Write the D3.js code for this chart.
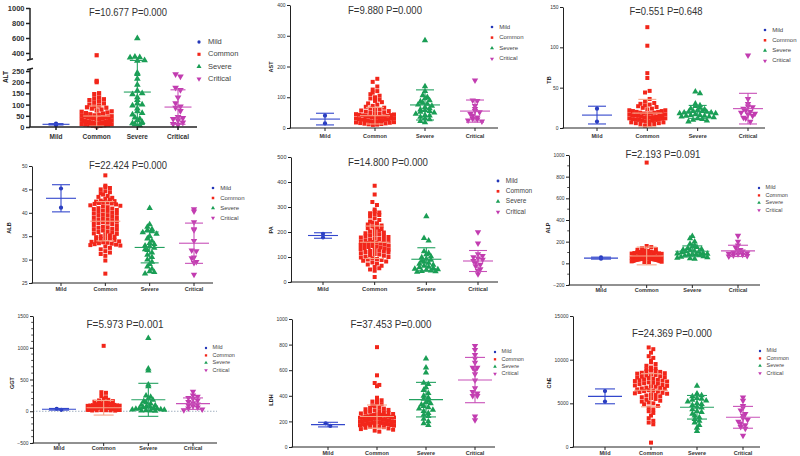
<!DOCTYPE html>
<html><head><meta charset="utf-8">
<script src="https://cdn.jsdelivr.net/npm/d3@7"></script>
<style>body{margin:0;background:#fff}svg{display:block;font-family:"Liberation Sans",Arial,sans-serif}</style>
</head><body><svg id="c" width="800" height="456"></svg>
<script>
const groups = ["Mild","Common","Severe","Critical"];
const colors = ["#2336b8","#f2261a","#1a9e55","#c23cb0"];
const barColors = ["#3347cc","#f7a488","#23a160","#c850b8"];

// ALT
const altMild = [9, 15];
const altCommon = [3,5,6,8,9,10,11,12,13,14,15,16,17,18,19,20,21,22,23,24,25,26,27,28,30,32,34,36,38,40,41,42,44,45,47,48,50,52,55,57,60,62,65,68,70,74,78,82,86,88,92,96,100,105,110,115,120,124,128,132,147,151,200,206,370];
const altSevere = [595,348,342,338,302,298,242,236,215,188,162,150,146,132,120,105,100,96,82,70,62,55,42,36,30,22,16,12,8];
const altCritical = [236,226,176,166,132,106,92,86,72,45,40,36,30,20,14,10];
const altMean = [12, 49, 156, 89];
const altSD = [3, 45, 145, 77];
const altTicks = [0,50,100,150,200,250,400,600,800,1000];

// AST
const astMild = [40, 15];
const astCommon = [10,11,12,13,14,15,16,17,18,19,20,21,22,23,24,25,26,27,27,28,29,30,31,32,33,34,35,36,37,38,39,40,41,42,43,44,45,46,47,49,51,53,55,57,59,61,63,66,69,72,76,80,84,88,92,96,100,105,110,115,120,125,135,150,160];
const astSevere = [285,135,120,106,100,96,90,86,82,78,76,72,68,64,60,58,55,52,50,46,42,40,36,32,28,22,18];
const astCritical = [155,90,88,72,62,56,52,46,40,35,30,28,25,22];
const astMean = [29, 40, 75, 55];
const astSD = [19, 27, 49, 36];
const astTicks = [0,100,200,300,400];

// TB
const tbMild = [24, 8];
const tbCommon = [3,4,5,5,6,6,7,7,8,8,9,9,10,10,10.5,11,11,11.5,12,12,12.5,13,13,13.5,14,14,15,15,15.5,16,16,17,17,17.5,18,18,19,19,20,20,21,21,22,22,23,24,25,26,27,28,29,30,31,33,36,44,46,62,68,102,125];
const tbSevere = [45,43,30,28,27,25,24,23,22,21,21,20,20,19,19,18,18,17,16,16,15,15,14,14,13,12,11,10,9,8];
const tbCritical = [90,36,30,27,26,24,22,20,19,18,17,15,13,12,8];
const tbMean = [16, 18.5, 20, 24];
const tbSD = [11, 17, 8, 19];
const tbTicks = [0,50,100,150];

// ALB
const albMild = [45.2, 41.1];
const albCommon = [48,45.8,45.5,45.3,45,44.6,44.4,44.2,43.9,43.6,43.4,43.2,43,42.8,42.6,42.5,42.4,42.3,42.2,42.1,42,41.9,41.8,41.6,41.5,41.4,41.2,41,40.9,40.8,40.6,40.5,40.4,40.2,40,39.9,39.8,39.6,39.5,39.4,39.2,39,38.9,38.8,38.6,38.5,38.4,38.2,38.1,38,37.9,37.8,37.6,37.4,37.2,37,36.9,36.8,36.6,36.5,36.4,36.2,36,35.9,35.8,35.6,35.5,35.4,35.2,35,34.9,34.8,34.6,34.5,34.4,34.2,34,33.9,33.8,33.7,33.6,33.5,33.4,33.3,33.2,33.1,33,32.8,32.5,32.2,31.8,31.5,31.2,30.8,29.8,27];
const albSevere = [41,37.5,37,36.5,36.3,36,35.8,35.5,35,34.5,34,33.5,33.3,33,32.8,32.5,32.2,32,31.5,31,30.5,30,29.5,29,28.5,28,27.5,27.3,27];
const albCritical = [40.8,40.3,38,36.5,36.3,34,32,31.8,30.5,30.3,29.5,29.3,26.8];
const albMean = [43.1, 38.2, 32.6, 33.5];
const albSD = [2.9, 4.2, 3.3, 4.3];
const albTicks = [25,30,35,40,45,50];

// PA
const paMild = [193, 178];
const paCommon = [385,350,320,308,290,282,278,275,272,268,262,255,248,242,238,235,230,226,222,218,215,212,208,205,202,198,195,192,190,187,184,182,180,178,175,172,170,168,166,164,162,160,158,156,154,152,150,148,146,144,142,140,138,136,134,132,130,128,126,124,122,120,118,115,112,110,108,105,102,100,98,95,92,90,88,85,82,78,74,70,65,60,55,50,45,20];
const paSevere = [262,175,165,122,115,110,102,98,92,88,84,80,76,72,68,64,60,58,55,52,50,48,45,43,42,40];
const paCritical = [200,155,112,105,100,95,90,85,78,70,64,52,45,32];
const paMean = [186, 159, 91, 84];
const paSD = [11, 65, 46, 42];
const paTicks = [0,100,200,300,400,500];

// ALP
const alpMild = [55, 42];
const alpCommon = [930,160,150,140,130,125,120,115,110,108,105,102,100,98,95,92,90,88,86,84,82,80,78,76,75,74,72,70,69,68,66,65,64,62,61,60,59,58,57,56,55,54,53,52,51,50,49,48,47,46,45,44,43,42,41,40,39,38,37,36,35,34,33,32,30,28,26,24,22,20,18,15,12,10];
const alpSevere = [250,230,200,180,165,155,150,140,130,125,120,115,110,105,100,95,90,88,85,82,80,75,70,65,60,55,50,45,40];
const alpCritical = [255,200,165,145,125,115,110,100,95,90,85,80,75,70,65];
const alpMean = [48, 68, 111, 115];
const alpSD = [9, 82, 50, 52];
const alpTicks = [-200,0,200,400,600,800,1000];

// GGT
const ggtMild = [40, 22];
const ggtCommon = [1030,300,290,240,220,200,180,170,160,150,140,130,125,120,115,110,105,100,95,92,90,88,85,82,80,78,75,72,70,68,65,62,60,58,56,55,54,52,50,48,46,45,44,42,40,38,36,35,34,32,30,28,26,25,24,22,20,18,16,15,14,12,10];
const ggtSevere = [1150,670,640,420,390,245,225,200,180,160,140,120,100,90,80,70,60,50,45,40,35,30,25,20,15,10,8,5];
const ggtCritical = [310,250,230,210,195,170,150,130,110,95,80,60,45,30,20];
const ggtMean = [31, 55, 180, 120];
const ggtSD = [13, 115, 260, 90];
const ggtTicks = [-500,0,500,1000,1500];

// LDH
const ldhMild = [185, 165];
const ldhCommon = [780,560,500,485,475,385,375,365,355,345,335,325,318,310,305,300,295,290,285,280,276,272,268,265,262,258,255,252,250,248,245,243,240,238,236,234,232,230,228,226,224,222,220,218,216,214,212,210,208,206,204,202,200,198,196,194,192,190,188,186,184,182,180,178,176,174,172,170,167,164,161,158,155,150,145,140,135,128,120];
const ldhSevere = [690,620,580,500,490,465,445,420,400,385,375,360,350,340,330,320,310,300,290,280,265,250,240,220,200,185,170];
const ldhCritical = [790,760,720,690,660,620,620,600,570,520,460,430,420,400,400,240,210];
const ldhMean = [175, 238, 370, 523];
const ldhSD = [18, 90, 135, 177];
const ldhTicks = [0,200,400,600,800,1000];

// ChE
const cheMild = [6400, 5200];
const cheCommon = [11400,11200,10800,10400,10200,9900,9700,9500,9300,9100,9000,8900,8800,8700,8650,8600,8500,8450,8400,8300,8250,8200,8100,8050,8000,7950,7900,7800,7750,7700,7650,7600,7550,7500,7400,7350,7300,7250,7200,7100,7050,7000,6950,6900,6800,6750,6700,6650,6600,6500,6450,6400,6350,6300,6200,6150,6100,6000,5950,5900,5800,5700,5600,5500,5400,5300,5200,5100,5000,4900,4700,4500,4300,4100,3900,3600,3300,3000,2800,2600,500];
const cheSevere = [7000,6100,6000,5900,5800,5600,5500,5400,5300,5200,5000,4900,4800,4600,4500,4300,4100,4000,3800,3600,3400,3200,3000,2800,2500,2200,1800];
const cheCritical = [5700,5300,4700,4500,4200,3800,3600,3300,3100,2900,2700,2500,2300,2100,1300];
const cheMean = [5800, 6500, 4550, 3400];
const cheSD = [850, 1900, 1350, 1250];
const cheTicks = [0,5000,10000,15000];

const panels = [
 {label:"ALT", title:"F=10.677 P=0.000", tw:78, data:[altMild,altCommon,altSevere,altCritical], mean:altMean, sd:altSD, ticks:altTicks,
  yDomain:[0,250,300,1000], yRange:[127,71,60.5,8], broken:true, ax:30, xEnd:197, xr:[56,178], xlabY:139,
  tx:128, ty:15.5, lx:6, ly:77, legX:199, legY:42, legDy:12.3, legFont:7.5, tickFont:7.5, tickBold:true, xFont:6.5, labFont:6.5, ms:4.2, maxHalf:15, mw:13.5, ww:7.5, sw:1.5},
 {label:"AST", title:"F=9.880 P=0.000", tw:74, data:[astMild,astCommon,astSevere,astCritical], mean:astMean, sd:astSD, ticks:astTicks,
  yDomain:[0,400], yRange:[128,5], ax:290, xEnd:498, xr:[325,475], xlabY:138,
  tx:385, ty:13.5, lx:272, ly:67, legX:492, legY:27, legDy:10.6, legFont:6, tickFont:5, xFont:5.5, labFont:5.5, ms:4, maxHalf:19, mw:15, ww:9, sw:1},
 {label:"TB", title:"F=0.551 P=0.648", tw:73, data:[tbMild,tbCommon,tbSevere,tbCritical], mean:tbMean, sd:tbSD, ticks:tbTicks,
  yDomain:[0,150], yRange:[128,7], ax:563, xEnd:765, xr:[597,748], xlabY:138,
  tx:666, ty:15, lx:550, ly:80, legX:765, legY:30, legDy:10.3, legFont:6, tickFont:5, xFont:5.5, labFont:5.5, ms:4, maxHalf:18, mw:15, ww:9, sw:1},
 {label:"ALB", title:"F=22.424 P=0.000", tw:78, data:[albMild,albCommon,albSevere,albCritical], mean:albMean, sd:albSD, ticks:albTicks,
  yDomain:[25,50], yRange:[283,166], ax:32, xEnd:213, xr:[61,194], xlabY:291,
  tx:128, ty:169, lx:10, ly:228, legX:213, legY:188, legDy:10, legFont:6, tickFont:5, xFont:5.5, labFont:5.5, ms:4, maxHalf:15, mw:15, ww:9, sw:1},
 {label:"PA", title:"F=14.800 P=0.000", tw:80, data:[paMild,paCommon,paSevere,paCritical], mean:paMean, sd:paSD, ticks:paTicks,
  yDomain:[0,500], yRange:[282,157], ax:291, xEnd:498, xr:[323,478], xlabY:291,
  tx:388, ty:166, lx:272, ly:230, legX:498, legY:181, legDy:10.3, legFont:6.5, tickFont:5.5, xFont:5.8, labFont:5.5, ms:4, maxHalf:14, mw:15, ww:9, sw:1},
 {label:"ALP", title:"F=2.193 P=0.091", tw:75, data:[alpMild,alpCommon,alpSevere,alpCritical], mean:alpMean, sd:alpSD, ticks:alpTicks, minor:100,
  yDomain:[-200,1000], yRange:[285,155], ax:569, xEnd:760, xr:[601,738], xlabY:292,
  tx:663, ty:158, lx:549, ly:228, legX:759, legY:188, legDy:7.4, legFont:5.5, tickFont:5, xFont:5.5, labFont:5.5, ms:4, maxHalf:15, mw:17, ww:10, sw:1},
 {label:"GGT", title:"F=5.973 P=0.001", tw:77, data:[ggtMild,ggtCommon,ggtSevere,ggtCritical], mean:ggtMean, sd:ggtSD, ticks:ggtTicks, minor:100, zeroLine:true,
  yDomain:[-500,1500], yRange:[443,316], ax:33, xEnd:217, xr:[59,193], xlabY:450,
  tx:125, ty:328, lx:13, ly:383, legX:206, legY:348, legDy:7.4, legFont:5.5, tickFont:5, xFont:5.5, labFont:5.5, ms:4, maxHalf:16, mw:17, ww:10, sw:1},
 {label:"LDH", title:"F=37.453 P=0.000", tw:81, data:[ldhMild,ldhCommon,ldhSevere,ldhCritical], mean:ldhMean, sd:ldhSD, ticks:ldhTicks,
  yDomain:[0,1000], yRange:[447,319], ax:292, xEnd:495, xr:[328,475], xlabY:455,
  tx:391, ty:328, lx:272, ly:400, legX:495, legY:352, legDy:7.3, legFont:5.5, tickFont:5, xFont:5.5, labFont:5.5, ms:4, maxHalf:17, mw:17, ww:10, sw:1},
 {label:"ChE", title:"F=24.369 P=0.000", tw:80, data:[cheMild,cheCommon,cheSevere,cheCritical], mean:cheMean, sd:cheSD, ticks:cheTicks,
  yDomain:[0,15000], yRange:[447,316], ax:573, xEnd:760, xr:[605,743], xlabY:455,
  tx:672, ty:337, lx:550, ly:383, legX:760, legY:351, legDy:7.4, legFont:5.5, tickFont:5, xFont:5.5, labFont:5.5, ms:4, maxHalf:18, mw:17, ww:10, sw:1}
];

const svg = d3.select("#c");
const shapes = [d3.symbolCircle, d3.symbolSquare, d3.symbolTriangle, d3.symbolTriangle];
const rots = [0, 0, 0, 180];
const areaK = [0.85, 1.0, 1.1, 1.1];

// Row-based scatter layout (GraphPad-like): points sharing a pixel row spread horizontally.
function layoutRows(vals, y, cx, ms, maxHalf) {
  const pts = vals.map(v => ({v, y: y(v)}));
  const bins = d3.group(pts, d => Math.round(d.y / ms));
  const out = [];
  for (const [, arr] of bins) {
    const n = arr.length;
    let sp = ms * 1.15;
    if (n > 1 && (n - 1) * sp / 2 > maxHalf) sp = 2 * maxHalf / (n - 1);
    arr.forEach((d, i) => {
      let k;
      if (n % 2) k = i === 0 ? 0 : (i % 2 ? 1 : -1) * Math.ceil(i / 2);
      else k = (i % 2 ? 1 : -1) * (Math.floor(i / 2) + 0.5);
      d.x = cx + k * sp;
      out.push(d);
    });
  }
  return out;
}

const fmt = d3.format("d");

panels.forEach(p => {
  const g = svg.append("g");
  const y = d3.scaleLinear().domain(p.yDomain).range(p.yRange);
  const x = d3.scalePoint().domain(groups).range(p.xr);
  const base = p.yRange[0];
  const yMin = p.yDomain[0], yMax = p.yDomain[p.yDomain.length - 1];

  if (p.zeroLine) {
    g.append("line").attr("x1", p.ax).attr("x2", p.xEnd).attr("y1", y(0)).attr("y2", y(0))
      .attr("stroke", "#8a9cb0").attr("stroke-width", 0.8).attr("stroke-dasharray", "1.5,1.5");
  }

  // points
  p.data.forEach((vals, gi) => {
    const pts = layoutRows(vals, y, x(groups[gi]), p.ms, p.maxHalf);
    const sym = d3.symbol(shapes[gi], p.ms * p.ms * areaK[gi]);
    g.append("g").selectAll("path").data(pts).join("path")
      .attr("d", sym)
      .attr("transform", d => `translate(${d.x},${d.y}) rotate(${rots[gi]})`)
      .attr("fill", colors[gi]);
  });

  // error bars (mean ± SD)
  groups.forEach((grp, gi) => {
    const cx = x(grp);
    const m = p.mean[gi], s = p.sd[gi];
    const hi = Math.min(m + s, yMax), lo = Math.max(m - s, yMin);
    const eg = g.append("g").attr("stroke", barColors[gi]).attr("stroke-width", 1.1);
    eg.append("line").attr("x1", cx).attr("x2", cx).attr("y1", y(lo)).attr("y2", y(hi));
    eg.append("line").attr("x1", cx - p.mw).attr("x2", cx + p.mw).attr("y1", y(m)).attr("y2", y(m));
    eg.append("line").attr("x1", cx - p.ww).attr("x2", cx + p.ww).attr("y1", y(hi)).attr("y2", y(hi));
    if (m - s > yMin) eg.append("line").attr("x1", cx - p.ww).attr("x2", cx + p.ww).attr("y1", y(lo)).attr("y2", y(lo));
  });

  // y axis
  const axis = d3.axisLeft(y).tickValues(p.ticks).tickFormat(fmt).tickSize(p.broken ? 4 : 3).tickSizeOuter(0).tickPadding(1.5);
  const ga = g.append("g").attr("transform", `translate(${p.ax},0)`).call(axis);
  ga.selectAll("text").attr("font-size", p.tickFont).attr("fill", "#333")
    .attr("font-weight", p.tickBold ? "bold" : "normal").attr("font-family", "Liberation Sans, Arial, sans-serif");
  ga.selectAll("line").attr("stroke", "#222").attr("stroke-width", p.sw);
  ga.select(".domain").attr("stroke", "#222").attr("stroke-width", p.sw);
  if (p.broken) {
    ga.select(".domain").remove();
    const segs = [[y(0), y(250) - 2], [y(300) - 1, y(1000)]];
    segs.forEach(s => ga.append("line").attr("x1", 0).attr("x2", 0).attr("y1", s[0]).attr("y2", s[1])
      .attr("stroke", "#222").attr("stroke-width", p.sw));
    [y(250) - 2, y(300) - 1].forEach(yy => ga.append("line").attr("x1", -3).attr("x2", 3)
      .attr("y1", yy + 0.7).attr("y2", yy - 0.7).attr("stroke", "#222").attr("stroke-width", p.sw));
  }
  if (p.minor) {
    const minors = d3.range(yMin, yMax + 1, p.minor).filter(v => !p.ticks.includes(v));
    ga.selectAll(".minor").data(minors).join("line").attr("class", "minor")
      .attr("x1", -1.8).attr("x2", 0).attr("y1", d => y(d)).attr("y2", d => y(d))
      .attr("stroke", "#222").attr("stroke-width", 0.8);
  }

  // x axis
  const gx = g.append("g");
  gx.append("line").attr("x1", p.ax - p.sw / 2).attr("x2", p.xEnd).attr("y1", base).attr("y2", base)
    .attr("stroke", "#222").attr("stroke-width", p.sw);
  gx.selectAll(".xt").data(groups).join("line").attr("class", "xt")
    .attr("x1", d => x(d)).attr("x2", d => x(d)).attr("y1", base).attr("y2", base + 3)
    .attr("stroke", "#222").attr("stroke-width", p.sw);
  gx.selectAll(".xl").data(groups).join("text").attr("class", "xl")
    .attr("x", d => x(d)).attr("y", p.xlabY).attr("text-anchor", "middle")
    .attr("font-size", p.xFont).attr("font-weight", "bold").attr("fill", "#333").text(d => d);

  // y label
  g.append("text").attr("transform", `translate(${p.lx},${p.ly}) rotate(-90)`)
    .attr("text-anchor", "middle").attr("dominant-baseline", "middle")
    .attr("font-size", p.labFont).attr("font-weight", "bold").attr("fill", "#222").text(p.label);

  // title
  g.append("text").attr("x", p.tx).attr("y", p.ty).attr("text-anchor", "middle")
    .attr("font-size", 11).attr("fill", "#333")
    .attr("textLength", p.tw).attr("lengthAdjust", "spacingAndGlyphs").text(p.title);

  // legend
  const lg = g.append("g");
  groups.forEach((grp, gi) => {
    const ly = p.legY + gi * p.legDy;
    const sz = (p.legFont * 0.42) ** 2 * areaK[gi];
    lg.append("path").attr("d", d3.symbol(shapes[gi], sz))
      .attr("transform", `translate(${p.legX},${ly}) rotate(${rots[gi]})`).attr("fill", colors[gi]);
    lg.append("text").attr("x", p.legX + p.legFont * 1.2).attr("y", ly).attr("dominant-baseline", "middle")
      .attr("font-size", p.legFont).attr("fill", "#444").text(grp);
  });
});
</script></body></html>
